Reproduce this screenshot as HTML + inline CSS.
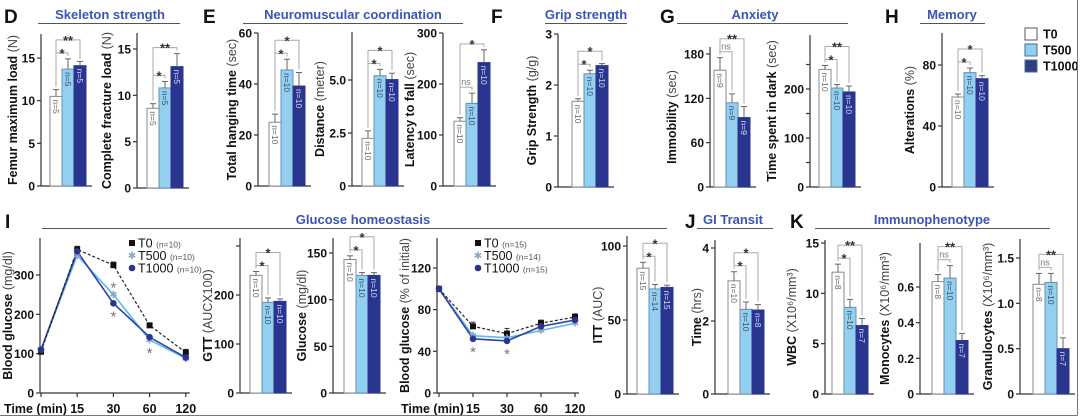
<!DOCTYPE html>
<html><head><meta charset="utf-8"><title>Figure panels D–K</title>
<style>
html,body{margin:0;padding:0;background:#fff;}
svg{display:block;font-family:"Liberation Sans",Arial,sans-serif;}
</style></head>
<body>
<svg id="fig" width="1080" height="417" viewBox="0 0 1080 417" xmlns="http://www.w3.org/2000/svg"></svg>
<script>
// ===== Panel data =====
const groupNames = ['T0','T500','T1000'];
// D
const femurValues = [10.5, 13.7, 14.1];
const femurErr = [0.8, 1.2, 0.5];
const femurN = ['n=5','n=5','n=5'];
const femurTicks = [0, 5, 10, 15];
const fractureValues = [8.6, 10.8, 13.1];
const fractureErr = [0.5, 0.7, 1.4];
const fractureN = ['n=5','n=5','n=5'];
const fractureTicks = [0, 5, 10, 15];
// E
const hangingValues = [25, 45.5, 39.2];
const hangingErr = [3.2, 4.2, 5.3];
const hangingTicks = [0, 20, 40, 60];
const distanceValues = [2.25, 5.2, 5.02];
const distanceErr = [0.35, 0.3, 0.3];
const distanceTicks = [0, 2.5, 5.0];
const distanceTickLabels = ['0','2.5','5.0'];
const latencyValues = [127, 162, 242];
const latencyErr = [7, 20, 25];
const latencyTicks = [0, 100, 200, 300];
const n10 = ['n=10','n=10','n=10'];
// F
const gripValues = [1.68, 2.22, 2.38];
const gripErr = [0.05, 0.07, 0.04];
const gripTicks = [0, 1, 2, 3];
// G
const immobilityValues = [158, 114, 94];
const immobilityErr = [17, 12, 15];
const immobilityN = ['n=9','n=9','n=9'];
const immobilityTicks = [0, 60, 120, 180];
const darkValues = [240, 202, 194];
const darkErr = [8, 7, 12];
const darkTicks = [0, 50, 100, 150, 200, 250];
const darkTickLabels = ['0','','100','','200',''];
// H
const alterValues = [59, 75, 71];
const alterErr = [2, 3, 2];
const alterTicks = [0, 40, 80];
// I
const gttTimes = ['0','15','30','60','120'];
const gttT0 = [105, 365, 325, 172, 103];
const gttT500 = [110, 350, 250, 135, 88];
const gttT1000 = [110, 360, 228, 142, 90];
const gttErrT0 = [8, 8, 8, 6, 8];
const gttTicks = [0, 100, 200, 300];
const gttAucValues = [240, 185, 187];
const gttAucErr = [8, 9, 5];
const gttAucTicks = [0, 100, 200, 300];
const gttAucTickLabels = ['0','100','200',''];
const glucoseValues = [143, 126, 126];
const glucoseErr = [4, 3, 3];
const glucoseTicks = [0, 50, 100, 150];
const ittTimes = ['0','15','30','60','120'];
const ittT0 = [100, 64, 57, 67, 73];
const ittT500 = [100, 55, 53, 60, 67];
const ittT1000 = [100, 52, 50, 64, 70];
const ittErrT0 = [2, 4, 5, 3, 3];
const ittTicks = [0, 40, 80, 120];
const ittAucValues = [85, 71, 72];
const ittAucErr = [4, 3, 1.5];
const ittAucN = ['n=15','n=14','n=15'];
const ittAucTicks = [0, 50, 100];
// J
const transitValues = [3.1, 2.32, 2.3];
const transitErr = [0.25, 0.2, 0.15];
const transitN = ['n=10','n=10','n=8'];
const transitTicks = [0, 2, 4];
// K
const wbcValues = [12.1, 8.6, 6.8];
const wbcErr = [0.8, 0.8, 0.7];
const wbcN = ['n=8','n=10','n=7'];
const wbcTicks = [0, 5, 10, 15];
const monoValues = [0.63, 0.65, 0.30];
const monoErr = [0.04, 0.07, 0.04];
const monoTicks = [0, 0.2, 0.4, 0.6];
const monoTickLabels = ['0','0.2','0.4','0.6'];
const granValues = [1.21, 1.23, 0.50];
const granErr = [0.12, 0.10, 0.12];
const granTicks = [0, 0.5, 1.0, 1.5];
const granTickLabels = ['0','0.5','1.0','1.5'];

// ===== Drawing =====
const NS = 'http://www.w3.org/2000/svg';
const svg = document.getElementById('fig');
const FILL = ['#ffffff', '#93d0f0', '#2a3590'];
const STROKE = ['#8a8a8a', '#6a8fb0', '#2a3590'];
const NCOL = ['#666', '#3a4a6a', '#d8dcf5'];

function mk(tag, attrs, parent, name) {
  const e = document.createElementNS(NS, tag);
  for (const k in attrs) e.setAttribute(k, attrs[k]);
  
  
  (parent || svg).appendChild(e);
  return e;
}
function txt(str, attrs, parent, name) {
  const t = mk('text', attrs, parent, name);
  t.textContent = str;
  return t;
}
function yLabel(g, lx, mid, label, unit, name) {
  const t = mk('text', {transform: `translate(${lx + 4},${mid}) rotate(-90)`, 'text-anchor': 'middle', 'font-size': 12.5, fill: '#111'}, g, name);
  const a = mk('tspan', {'font-weight': 'bold'}, t, 'y-axis-title-main');
  a.textContent = label + ' ';
  const b = mk('tspan', {'font-weight': 'normal', fill: '#444'}, t, 'y-axis-title-unit');
  b.textContent = unit;
}
function yAxis(g, ax, top, base, ticks, labels, y) {
  mk('line', {x1: ax, y1: top, x2: ax, y2: base, stroke: '#333', 'stroke-width': 1.2}, g, 'y-axis-line');
  ticks.forEach((t, i) => {
    const py = y(t);
    mk('line', {x1: ax - 4, y1: py, x2: ax, y2: py, stroke: '#333', 'stroke-width': 1.2}, g, 'y-tick');
    const lab = labels ? labels[i] : String(t);
    if (lab !== '') txt(lab, {x: ax - 6, y: py + 4.5, 'text-anchor': 'end', 'font-size': 12, 'font-weight': 'bold', fill: '#111'}, g, 'y-tick-label');
  });
}

function barPanel(c) {
  const g = mk('g', {}, svg, c.id + '-panel');
  const k = (c.base - c.refPx) / c.refVal;
  const y = v => c.base - v * k;
  const bw = 12;
  yAxis(g, c.ax, c.top, c.base, c.ticks, c.tickLabels, y);
  mk('line', {x1: c.ax, y1: c.base, x2: c.barX + 3 * bw + 6, y2: c.base, stroke: '#333', 'stroke-width': 1.2}, g, 'x-axis-line');
  const tops = [];
  c.vals.forEach((v, i) => {
    const x = c.barX + i * bw;
    const cx = x + bw / 2;
    mk('rect', {x: x, y: y(v), width: bw, height: c.base - y(v), fill: FILL[i], stroke: STROKE[i], 'stroke-width': 1}, g, 'bar-' + groupNames[i].toLowerCase());
    const ye = y(v + c.err[i]);
    mk('line', {x1: cx, y1: y(v), x2: cx, y2: ye, stroke: '#666', 'stroke-width': 1}, g, 'error-bar');
    mk('line', {x1: cx - 3, y1: ye, x2: cx + 3, y2: ye, stroke: '#666', 'stroke-width': 1}, g, 'error-cap');
    tops.push(ye);
    const nl = (c.n || n10)[i];
    txt(nl, {transform: `translate(${cx - 3.2},${y(v) + 3}) rotate(90)`, 'font-size': 8.5, fill: NCOL[i]}, g, 'n-label');
  });
  let prev = null;
  (c.sig || [[0, 1, '*'], [0, 2, '*']]).forEach(s => {
    const [i, j, mark] = s;
    let m = Infinity;
    for (let q = i; q <= j; q++) m = Math.min(m, tops[q]);
    let yb = m - 6;
    if (prev !== null) yb = Math.min(yb, prev - 13);
    prev = yb;
    const xi = c.barX + i * bw + bw / 2, xj = c.barX + j * bw + bw / 2;
    mk('polyline', {points: `${xi},${tops[i] - 3} ${xi},${yb} ${xj},${yb} ${xj},${tops[j] - 3}`, fill: 'none', stroke: '#aaa', 'stroke-width': 1}, g, 'significance-bracket');
    if (mark === 'ns') txt('ns', {x: (xi + xj) / 2, y: yb - 2, 'text-anchor': 'middle', 'font-size': 9, fill: '#777'}, g, 'significance-label');
    else txt(mark, {x: (xi + xj) / 2, y: yb + 5, 'text-anchor': 'middle', 'font-size': 13, 'font-weight': 'bold', fill: '#333'}, g, 'significance-label');
  });
  yLabel(g, c.lx, (c.top + c.base) / 2, c.label, c.unit, 'y-axis-title');
}

function linePanel(c) {
  const g = mk('g', {}, svg, c.id + '-panel');
  const k = (c.base - c.refPx) / c.refVal;
  const y = v => c.base - v * k;
  const x = i => c.x0 + i * c.step;
  yAxis(g, c.ax, c.top, c.base, c.ticks, null, y);
  mk('line', {x1: c.ax, y1: c.base, x2: x(c.cats.length - 1) + 4, y2: c.base, stroke: '#333', 'stroke-width': 1.2}, g, 'x-axis-line');
  c.cats.forEach((lab, i) => {
    mk('line', {x1: x(i), y1: c.base, x2: x(i), y2: c.base + 4, stroke: '#333', 'stroke-width': 1.2}, g, 'x-tick');
    if (i > 0) txt(lab, {x: x(i), y: 413, 'text-anchor': 'middle', 'font-size': 12.5, 'font-weight': 'bold', fill: '#111'}, g, 'x-tick-label');
  });
  txt('Time (min)', {x: c.ax - 36, y: 413, 'font-size': 12.5, 'font-weight': 'bold', fill: '#111'}, g, 'x-axis-title');
  const pts = arr => arr.map((v, i) => `${x(i)},${y(v)}`).join(' ');
  mk('polyline', {points: pts(c.t500), fill: 'none', stroke: '#5bbbe8', 'stroke-width': 1.6}, g, 'line-t500');
  mk('polyline', {points: pts(c.t1000), fill: 'none', stroke: '#3340a0', 'stroke-width': 1.6}, g, 'line-t1000');
  mk('polyline', {points: pts(c.t0), fill: 'none', stroke: '#222', 'stroke-width': 1.2, 'stroke-dasharray': '3,2'}, g, 'line-t0');
  c.t0.forEach((v, i) => {
    mk('line', {x1: x(i), y1: y(v), x2: x(i), y2: y(v + c.errT0[i]), stroke: '#333', 'stroke-width': 1}, g, 'error-bar');
    mk('line', {x1: x(i) - 2.5, y1: y(v + c.errT0[i]), x2: x(i) + 2.5, y2: y(v + c.errT0[i]), stroke: '#333', 'stroke-width': 1}, g, 'error-cap');
    mk('rect', {x: x(i) - 3, y: y(v) - 3, width: 6, height: 6, fill: '#111'}, g, 'point-t0');
  });
  c.t500.forEach((v, i) => {
    txt('✱', {x: x(i), y: y(v) + 3.5, 'text-anchor': 'middle', 'font-size': 10, fill: '#8aa6c8', 'font-family': 'DejaVu Sans, sans-serif'}, g, 'point-t500');
  });
  c.t1000.forEach((v, i) => {
    mk('circle', {cx: x(i), cy: y(v), r: 3.3, fill: '#2a3590'}, g, 'point-t1000');
  });
  c.stars.forEach(s => {
    const [i, where] = s;
    const lo = Math.min(c.t500[i], c.t1000[i]);
    const hi = Math.max(c.t500[i], c.t1000[i]);
    const py = where === 'below' ? y(lo) + 14 : y(hi) - 6;
    txt('*', {x: x(i), y: py + 4, 'text-anchor': 'middle', 'font-size': 15, fill: '#777'}, g, 'significance-star');
  });
  // legend
  const lg = mk('g', {}, g, 'legend');
  const entries = [['T0', c.nLab[0]], ['T500', c.nLab[1]], ['T1000', c.nLab[2]]];
  entries.forEach((e, i) => {
    const ly = c.legY + i * 12.5;
    if (i === 0) mk('rect', {x: c.legX - 3, y: ly - 3, width: 6, height: 6, fill: '#111'}, lg, 'legend-marker-t0');
    if (i === 1) txt('✱', {x: c.legX, y: ly + 3.5, 'text-anchor': 'middle', 'font-size': 10, fill: '#8aa6c8', 'font-family': 'DejaVu Sans, sans-serif'}, lg, 'legend-marker-t500');
    if (i === 2) mk('circle', {cx: c.legX, cy: ly, r: 3.3, fill: '#2a3590'}, lg, 'legend-marker-t1000');
    const t = mk('text', {x: c.legX + 6, y: ly + 4.5, 'font-size': 12.5, fill: '#111'}, lg, 'legend-entry');
    const a = mk('tspan', {}, t, 'legend-name'); a.textContent = e[0] + ' ';
    const b = mk('tspan', {'font-size': 8.5, fill: '#555'}, t, 'legend-n'); b.textContent = e[1];
  });
  yLabel(g, c.lx, (c.top + c.base) / 2, c.label, c.unit, 'y-axis-title');
}

// headers
function header(letter, lx, ly, title, tcx, ty, l1, l2, yl) {
  txt(letter, {x: lx, y: ly, 'font-size': 19, 'font-weight': 'bold', fill: '#111'}, svg, 'panel-letter-' + letter.toLowerCase());
  txt(title, {x: tcx, y: ty, 'text-anchor': 'middle', 'font-size': 13, 'font-weight': 'bold', fill: '#3a55b8'}, svg, 'section-title');
  mk('line', {x1: l1, y1: yl, x2: l2, y2: yl, stroke: '#555', 'stroke-width': 1}, svg, 'section-underline');
}
header('D', 4, 23, 'Skeleton strength', 110, 19, 38, 180, 23.5);
header('E', 203, 23, 'Neuromuscular coordination', 353, 19, 243, 463, 23.5);
header('F', 491, 23, 'Grip strength', 586, 19, 545, 627, 23.5);
header('G', 660, 23, 'Anxiety', 755, 19, 677, 848, 23.5);
header('H', 885, 23, 'Memory', 952, 19, 920, 985, 23.5);
header('I', 5, 228, 'Glucose homeostasis', 363, 224, 42, 667, 228.5);
header('J', 685, 228, 'GI Transit', 733, 224, 697, 773, 228.5);
header('K', 790, 228, 'Immunophenotype', 932, 224, 815, 1050, 228.5);

barPanel({id: 'femur', ax: 41, base: 186, refVal: 15, refPx: 58, top: 34, barX: 50, vals: femurValues, err: femurErr, n: femurN, ticks: femurTicks, sig: [[0,1,'*'],[0,2,'**']], label: 'Femur maximum load', unit: '(N)', lx: 13});
barPanel({id: 'fracture', ax: 137, base: 188, refVal: 15, refPx: 49, top: 33, barX: 147, vals: fractureValues, err: fractureErr, n: fractureN, ticks: fractureTicks, sig: [[0,1,'*'],[0,2,'**']], label: 'Complete fracture load', unit: '(N)', lx: 107});
barPanel({id: 'hanging', ax: 258, base: 186, refVal: 60, refPx: 33, top: 33, barX: 269, vals: hangingValues, err: hangingErr, ticks: hangingTicks, label: 'Total hanging time', unit: '(sec)', lx: 232});
barPanel({id: 'distance', ax: 352, base: 186, refVal: 5, refPx: 80, top: 32, barX: 362, vals: distanceValues, err: distanceErr, ticks: distanceTicks, tickLabels: distanceTickLabels, label: 'Distance', unit: '(meter)', lx: 320});
barPanel({id: 'latency', ax: 443, base: 186, refVal: 300, refPx: 33, top: 33, barX: 454, vals: latencyValues, err: latencyErr, ticks: latencyTicks, sig: [[0,1,'ns'],[0,2,'*']], label: 'Latency to fall', unit: '(sec)', lx: 410});
barPanel({id: 'grip', ax: 558, base: 187, refVal: 3, refPx: 34, top: 34, barX: 572, vals: gripValues, err: gripErr, ticks: gripTicks, label: 'Grip Strength', unit: '(g/g)', lx: 532});
barPanel({id: 'immobility', ax: 710, base: 187, refVal: 180, refPx: 54, top: 47, barX: 714, vals: immobilityValues, err: immobilityErr, n: immobilityN, ticks: immobilityTicks, sig: [[0,1,'ns'],[0,2,'**']], label: 'Immobility', unit: '(sec)', lx: 672});
barPanel({id: 'dark', ax: 810, base: 187, refVal: 200, refPx: 89, top: 35, barX: 819, vals: darkValues, err: darkErr, ticks: darkTicks, tickLabels: darkTickLabels, sig: [[0,1,'*'],[0,2,'**']], label: 'Time spent in dark', unit: '(sec)', lx: 772});
barPanel({id: 'alterations', ax: 942, base: 187, refVal: 80, refPx: 65, top: 33, barX: 952, vals: alterValues, err: alterErr, ticks: alterTicks, label: 'Alterations', unit: '(%)', lx: 910});

linePanel({id: 'gtt-curve', ax: 40, base: 393, refVal: 300, refPx: 275, top: 238, x0: 41, step: 36.2, cats: gttTimes, t0: gttT0, t500: gttT500, t1000: gttT1000, errT0: gttErrT0, ticks: gttTicks, stars: [[2,'above'],[2,'below'],[3,'below']], legX: 132, legY: 243, nLab: ['(n=10)','(n=10)','(n=10)'], label: 'Blood glucose', unit: '(mg/dl)', lx: 8});
barPanel({id: 'gtt-auc', ax: 240, base: 393, refVal: 200, refPx: 295, top: 238, barX: 250, vals: gttAucValues, err: gttAucErr, ticks: gttAucTicks, tickLabels: gttAucTickLabels, label: 'GTT', unit: '(AUCX100)', lx: 208});
barPanel({id: 'glucose', ax: 333, base: 393, refVal: 150, refPx: 253, top: 238, barX: 344, vals: glucoseValues, err: glucoseErr, ticks: glucoseTicks, label: 'Glucose', unit: '(mg/dl)', lx: 302});
linePanel({id: 'itt-curve', ax: 437, base: 393, refVal: 120, refPx: 268, top: 238, x0: 439, step: 34, cats: ittTimes, t0: ittT0, t500: ittT500, t1000: ittT1000, errT0: ittErrT0, ticks: ittTicks, stars: [[1,'below'],[2,'below']], legX: 478, legY: 243, nLab: ['(n=15)','(n=14)','(n=15)'], label: 'Blood glucose', unit: '(% of initial)', lx: 405});
barPanel({id: 'itt-auc', ax: 627, base: 394, refVal: 100, refPx: 246, top: 236, barX: 637, vals: ittAucValues, err: ittAucErr, n: ittAucN, ticks: ittAucTicks, label: 'ITT', unit: '(AUC)', lx: 598});
barPanel({id: 'gi-transit', ax: 715, base: 394, refVal: 4, refPx: 248, top: 240, barX: 728, vals: transitValues, err: transitErr, n: transitN, ticks: transitTicks, label: 'Time', unit: '(hrs)', lx: 697});
barPanel({id: 'wbc', ax: 825, base: 394, refVal: 15, refPx: 243, top: 240, barX: 832, vals: wbcValues, err: wbcErr, n: wbcN, ticks: wbcTicks, sig: [[0,1,'*'],[0,2,'**']], label: 'WBC', unit: '(X10⁶/mm³)', lx: 792});
barPanel({id: 'monocytes', ax: 920, base: 394, refVal: 0.6, refPx: 287, top: 243, barX: 932, vals: monoValues, err: monoErr, n: ['n=8','n=10','n=7'], ticks: monoTicks, tickLabels: monoTickLabels, sig: [[0,1,'ns'],[0,2,'**']], label: 'Monocytes', unit: '(X10⁶/mm³)', lx: 885});
barPanel({id: 'granulocytes', ax: 1020, base: 394, refVal: 1.5, refPx: 258, top: 239, barX: 1033, vals: granValues, err: granErr, n: ['n=8','n=10','n=7'], ticks: granTicks, tickLabels: granTickLabels, sig: [[0,1,'ns'],[0,2,'**']], label: 'Granulocytes', unit: '(X10⁶/mm³)', lx: 988});

// group legend (top right)
const legend = mk('g', {}, svg, 'group-legend');
groupNames.forEach((nm, i) => {
  const cy = 34 + i * 16;
  mk('rect', {x: 1025, y: cy - 6, width: 12, height: 12, fill: i === 2 ? '#2e3f80' : FILL[i], stroke: i === 0 ? '#555' : '#4a6a90', 'stroke-width': 1}, legend, 'legend-swatch-' + nm.toLowerCase());
  txt(nm, {x: 1043, y: cy + 4.5, 'font-size': 12.5, 'font-weight': 'bold', fill: '#111'}, legend, 'legend-label-' + nm.toLowerCase());
});

// frame
mk('line', {x1: 1077.5, y1: 0, x2: 1077.5, y2: 415.5, stroke: '#777', 'stroke-width': 1}, svg, 'frame-right');
mk('line', {x1: 0, y1: 415.5, x2: 1077.5, y2: 415.5, stroke: '#777', 'stroke-width': 1}, svg, 'frame-bottom');
</script>
</body></html>
